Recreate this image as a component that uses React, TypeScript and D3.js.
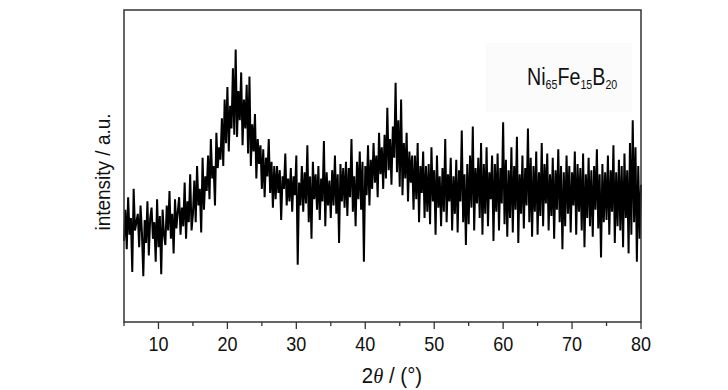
import React from 'react'
import * as d3 from 'd3'

// XRD scan, 2theta from 5 to 80 deg, 0.2 deg step
const scanStart = 5
const scanStep = 0.2

// intensity (a.u.), 10 points per row (2 deg)
const intensity = [
  78, 108, 70, 120, 84, 100, 48, 128, 88, 96,
  104, 72, 112, 86, 44, 98, 76, 116, 64, 100,
  110, 80, 96, 58, 118, 72, 102, 46, 108, 84,
  74, 112, 88, 126, 80, 104, 66, 118, 90, 106,
  120, 84, 110, 92, 134, 80, 116, 96, 142, 88,
  104, 136, 96, 150, 112, 128, 86, 158, 108, 140,
  126, 160, 118, 176, 138, 150, 112, 182, 148, 168,
  156, 196, 150, 214, 172, 226, 164, 208, 186, 244,
  180, 262, 178, 222, 194, 240, 170, 214, 186, 228,
  162, 236, 150, 190, 164, 200, 138, 176, 152, 170,
  128, 166, 120, 158, 140, 176, 124, 154, 110, 150,
  118, 150, 124, 146, 98, 140, 128, 162, 112, 138,
  116, 148, 106, 140, 122, 160, 55, 134, 112, 150,
  106, 144, 114, 170, 96, 140, 80, 154, 118, 142,
  108, 150, 98, 138, 116, 174, 92, 144, 112, 136,
  100, 146, 112, 160, 104, 142, 76, 152, 116, 148,
  110, 154, 102, 148, 120, 176, 106, 140, 92, 154,
  118, 164, 108, 154, 58, 150, 122, 170, 112, 156,
  128, 172, 134, 160, 120, 182, 142, 168, 128, 180,
  138, 206, 146, 176, 132, 188, 158, 230, 144, 194,
  130, 214, 122, 172, 138, 182, 116, 164, 134, 160,
  108, 160, 118, 172, 96, 150, 124, 164, 100, 150,
  106, 152, 94, 168, 116, 146, 84, 160, 110, 140,
  92, 148, 106, 176, 96, 142, 116, 158, 88, 140,
  104, 156, 86, 146, 116, 184, 96, 142, 74, 152,
  94, 160, 110, 188, 88, 148, 114, 158, 100, 172,
  84, 152, 104, 168, 92, 144, 118, 160, 78, 152,
  106, 162, 88, 148, 114, 192, 94, 156, 82, 146,
  100, 168, 86, 150, 108, 178, 76, 142, 104, 160,
  90, 148, 112, 186, 96, 158, 82, 150, 106, 164,
  84, 144, 102, 172, 92, 152, 114, 162, 88, 142,
  102, 158, 80, 146, 108, 166, 96, 150, 70, 144,
  92, 160, 104, 150, 86, 144, 112, 164, 84, 152,
  106, 148, 88, 162, 72, 142, 100, 158, 92, 146,
  82, 150, 108, 166, 90, 142, 62, 152, 96, 144,
  98, 160, 84, 146, 106, 170, 76, 144, 92, 156,
  88, 150, 72, 162, 100, 146, 66, 172, 84, 194,
  96, 168, 58, 150, 80, 132,
]

const xTicks = [10, 20, 30, 40, 50, 60, 70, 80]
const xMinorTicks = [5, 15, 25, 35, 45, 55, 65, 75]

const font = "'Liberation Sans', Arial, sans-serif"

const App = () => {
  const width = 728
  const height = 390
  const left = 124
  const right = 641
  const top = 10
  const bottom = 322

  const x = d3.scaleLinear().domain([5, 80]).range([left, right])
  const y = d3.scaleLinear().domain([0, 300]).range([bottom, bottom - 312])

  const points = intensity.map((v, i) => [scanStart + i * scanStep, v])
  const line = d3
    .line()
    .x((d) => x(d[0]))
    .y((d) => y(d[1]))

  return (
    <div style={{ position: 'fixed', left: 0, top: 0 }}>
      <svg width={width} height={height} style={{ display: 'block', background: '#fff' }}>
        {/* faint label box */}
        <rect x={486} y={43} width={146} height={69} fill="#fbfbfb" />
        <path d={line(points)} fill="none" stroke="#000" strokeWidth={2} strokeLinejoin="miter" />
        <rect x={left} y={top} width={right - left} height={bottom - top} fill="none" stroke="#333" strokeWidth={1.5} />

        {xMinorTicks.map((t) => (
          <line key={'m' + t} x1={x(t)} x2={x(t)} y1={bottom} y2={bottom + 4} stroke="#333" strokeWidth={1.3} />
        ))}
        {xTicks.map((t) => (
          <g key={t}>
            <line x1={x(t)} x2={x(t)} y1={bottom} y2={bottom + 7} stroke="#333" strokeWidth={1.3} />
            <text
              transform={`translate(${x(t)}, 351) scale(0.9, 1)`}
              textAnchor="middle"
              fontFamily={font}
              fontSize={20}
              fill="#111"
            >
              {t}
            </text>
          </g>
        ))}

        <text transform="translate(392, 383) scale(0.93, 1)" textAnchor="middle" fontFamily={font} fontSize={22} fill="#111">
          2<tspan fontStyle="italic" fontFamily="'Liberation Serif', serif">θ</tspan> / (°)
        </text>

        <text
          transform="translate(110, 172) rotate(-90) scale(0.95, 1)"
          textAnchor="middle"
          fontFamily={font}
          fontSize={20}
          fill="#111"
        >
          intensity / a.u.
        </text>

        <text transform="translate(527, 85) scale(0.82, 1)" fontFamily={font} fontSize={24} fill="#111">
          Ni<tspan fontSize={13} dy={4}>65</tspan>
          <tspan dy={-4}>Fe</tspan>
          <tspan fontSize={13} dy={4}>15</tspan>
          <tspan dy={-4}>B</tspan>
          <tspan fontSize={13} dy={4}>20</tspan>
        </text>
      </svg>
    </div>
  )
}

export default App
